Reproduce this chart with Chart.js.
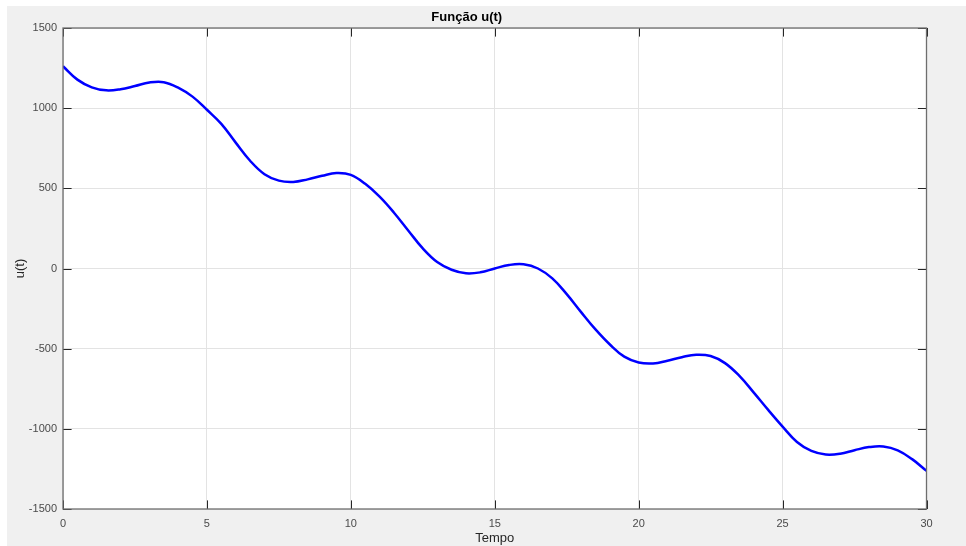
<!DOCTYPE html>
<html>
<head>
<meta charset="utf-8">
<script src="https://cdn.jsdelivr.net/npm/chart.js@4/dist/chart.umd.min.js"></script>
<style>
    html, body { margin: 0; padding: 0; background: #ffffff; }
    #wrap { position: absolute; left: 7px; top: 6px; width: 959px; height: 540px; background: #f0f0f0; }
</style>
</head>
<body>
<div id="wrap"><canvas id="myChart" width="959" height="540"></canvas></div>
<script>
const tempo = [0, 0.5, 1, 1.5, 2, 2.5, 3, 3.5, 4, 4.5, 5, 5.5, 6, 6.5, 7, 7.5, 8, 8.5, 9, 9.5,
    10, 10.5, 11, 11.5, 12, 12.5, 13, 13.5, 14, 14.5, 15, 15.5, 16, 16.5, 17, 17.5, 18, 18.5, 19, 19.5,
    20, 20.5, 21, 21.5, 22, 22.5, 23, 23.5, 24, 24.5, 25, 25.5, 26, 26.5, 27, 27.5, 28, 28.5, 29, 29.5, 30];
const u = [1262, 1178, 1130, 1111, 1118, 1138, 1160, 1162, 1128, 1072, 990, 902, 785, 672, 588, 548, 540, 556, 578, 595,
    584, 528, 448, 348, 236, 125, 40, -8, -30, -24, 0, 22, 26, 0, -62, -160, -272, -380, -474, -550,
    -586, -592, -575, -553, -538, -546, -590, -670, -774, -882, -986, -1082, -1138, -1160, -1155, -1133, -1114, -1110, -1134, -1189, -1262];
const xTicks = [0, 5, 10, 15, 20, 25, 30];
const yTicks = [-1500, -1000, -500, 0, 500, 1000, 1500];

const tickFont = { family: 'Liberation Sans, Arial, sans-serif', size: 11 };
const labelFont = { family: 'Liberation Sans, Arial, sans-serif', size: 13 };

// white plot area + matlab style box with inward ticks
const axesBox = {
    id: 'axesBox',
    beforeDraw(chart) {
        const a = chart.chartArea;
        const c = chart.ctx;
        c.save();
        c.fillStyle = '#ffffff';
        c.fillRect(a.left, a.top, a.right - a.left, a.bottom - a.top);
        c.restore();
    },
    afterDraw(chart) {
        const a = chart.chartArea;
        const c = chart.ctx;
        const len = 8.6;
        c.save();
        c.strokeStyle = '#262626';
        c.lineWidth = 1;
        c.beginPath();
        xTicks.forEach(v => {
            const px = Math.round(chart.scales.x.getPixelForValue(v)) + 0.5;
            c.moveTo(px, a.bottom); c.lineTo(px, a.bottom - len);
            c.moveTo(px, a.top); c.lineTo(px, a.top + len);
        });
        yTicks.forEach(v => {
            const py = Math.round(chart.scales.y.getPixelForValue(v)) + 0.5;
            c.moveTo(a.left, py); c.lineTo(a.left + len, py);
            c.moveTo(a.right, py); c.lineTo(a.right - len, py);
        });
        c.stroke();
        c.strokeStyle = '#6e6e6e';
        c.lineWidth = 1.3;
        c.strokeRect(a.left, a.top, a.right - a.left, a.bottom - a.top);
        c.restore();
    }
};

window.onload = () => {

    const ctx = document.getElementById('myChart');

    const data = {
        datasets: [{
            label: 'u(t)',
            data: tempo.map((t, i) => ({ x: t, y: u[i] })),
            borderColor: '#0000ff',
            borderWidth: 2.5,
            pointRadius: 0,
            fill: false,
            tension: 0.4
        }]
    };

    new Chart(ctx, {
        type: 'line',
        data: data,
        plugins: [axesBox],
        options: {
            responsive: false,
            animation: false,
            layout: { padding: { left: 0, right: 39.5, top: 0, bottom: 0 } },
            plugins: {
                legend: { display: false },
                tooltip: { enabled: false },
                title: {
                    display: true,
                    text: 'Função u(t)',
                    color: '#000000',
                    font: { family: 'Liberation Sans, Arial, sans-serif', size: 13, weight: 'bold' },
                    padding: { top: 3.7, bottom: 2.7 }
                }
            },
            scales: {
                x: {
                    type: 'linear',
                    min: 0,
                    max: 30,
                    afterFit: (s) => { s.height = 37; },
                    afterBuildTicks: (s) => { s.ticks = xTicks.map(v => ({ value: v })); },
                    border: { display: false },
                    grid: { color: '#e3e3e3', drawTicks: false },
                    ticks: { color: '#4a4a4a', font: tickFont, padding: 8, maxRotation: 0, callback: (v) => String(v) },
                    title: { display: true, text: 'Tempo', color: '#262626', font: labelFont, padding: { top: 0, bottom: 0.2 } }
                },
                y: {
                    min: -1500,
                    max: 1500,
                    afterFit: (s) => { s.width = 56; },
                    afterBuildTicks: (s) => { s.ticks = yTicks.map(v => ({ value: v })); },
                    border: { display: false },
                    grid: { color: '#e3e3e3', drawTicks: false },
                    ticks: { color: '#4a4a4a', font: tickFont, padding: 6, callback: (v) => String(v) },
                    title: { display: true, text: 'u(t)', color: '#262626', font: labelFont, padding: { top: 6, bottom: 0 } }
                }
            }
        }
    });
}
</script>
</body>
</html>
